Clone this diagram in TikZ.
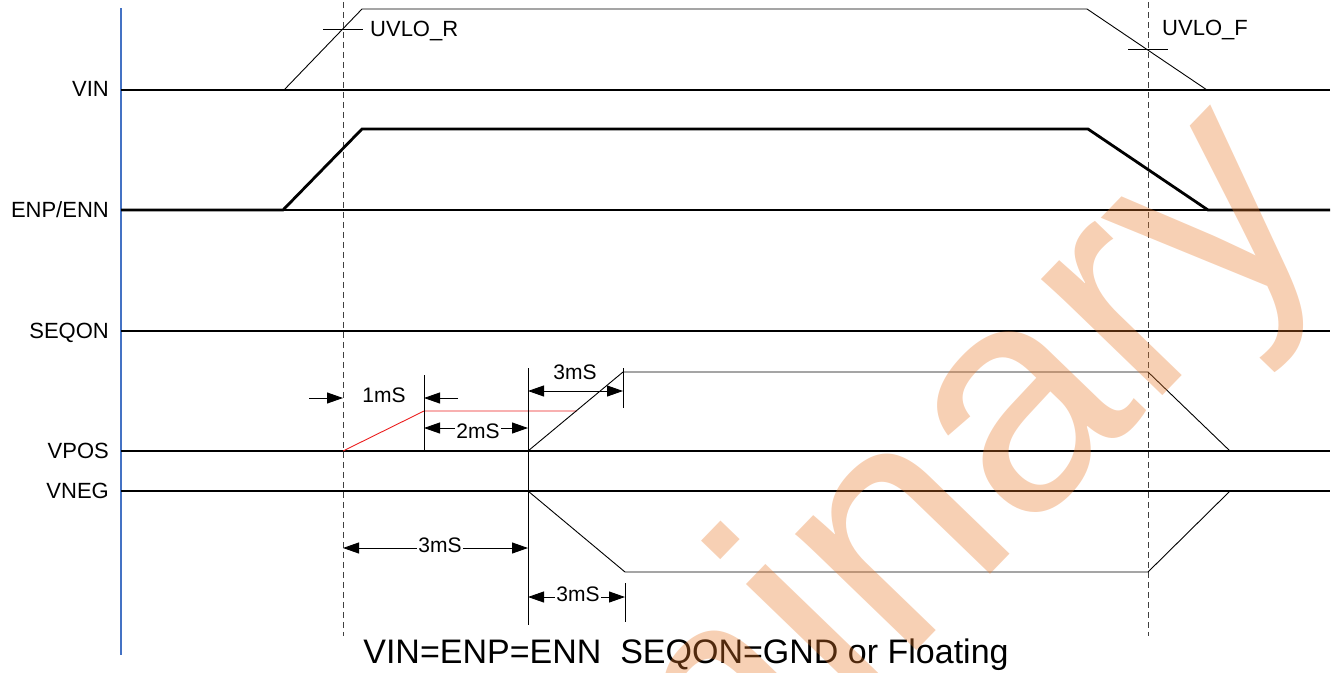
\documentclass[tikz,border=0pt]{standalone}
\usepackage{fontspec}
\setmainfont{Liberation Sans}
\definecolor{axisblue}{RGB}{68,114,196}
\definecolor{rampred}{RGB}{235,30,30}
\definecolor{wmorange}{RGB}{232,120,40}
\usepackage{tikz}
\usetikzlibrary{arrows.meta, positioning, calc}

\begin{document}
\begin{tikzpicture}[x=1pt, y=-1pt,
    sig/.style={line width=2.8pt},
    wave/.style={line width=0.9pt},
    guide/.style={line width=0.8pt, black!75, dash pattern=on 6pt off 4pt},
    dim/.style={line width=0.9pt, {Triangle[length=16pt,width=11pt]}-{Triangle[length=16pt,width=11pt]}},
    into/.style={line width=0.9pt, -{Triangle[length=16pt,width=11pt]}},
    siglabel/.style={anchor=east, inner sep=0pt, text depth=0pt, font=\fontsize{22}{24}\selectfont},
    dimlabel/.style={inner sep=1pt, text depth=0pt, fill=white, font=\fontsize{21}{24}\selectfont}
  ]
  \useasboundingbox (0,0) rectangle (1333,672);

  % time axis and signal names
  \draw[axisblue, line width=2.6pt] (121,8) -- (121,655);
  \node[siglabel] (vin)   at (109,89)  {VIN};
  \node[siglabel] (enp)   at (109,210) {ENP/ENN};
  \node[siglabel] (seqon) at (109,331) {SEQON};
  \node[siglabel] (vpos)  at (109,451) {VPOS};
  \node[siglabel] (vneg)  at (109,491) {VNEG};
  \foreach \lv in {90,210,331,451,491}
    \draw[sig] (121,\lv) -- (1330,\lv);

  % UVLO thresholds
  \draw[guide] (343,2) -- (343,636);
  \draw[guide] (1148,2) -- (1148,636);
  \draw[wave] (284,90) -- (362,9) -- (1087,9) -- (1207,90);
  \draw[wave] (323,29) -- (363,29);
  \node[dimlabel, fill=none, anchor=west, font=\fontsize{22}{24}\selectfont] (uvlor) at (369,29) {UVLO\_R};
  \draw[wave] (1128,49) -- (1168,49);
  \node[dimlabel, fill=none, anchor=west, font=\fontsize{22}{24}\selectfont] (uvlof) at (1161,28) {UVLO\_F};

  % enable
  \draw[sig] (121,210) -- (283,210) -- (362,129) -- (1088,129) -- (1208,210) -- (1330,210);

  % outputs
  \draw[rampred, wave] (343,451) -- (424,411) -- (577,411);
  \draw[wave] (528,451) -- (623,372) -- (1148,372) -- (1230,451);
  \draw[wave] (528,491) -- (625,572) -- (1148,572) -- (1230,491);

  % timing marks
  \draw[wave] (424,375) -- (424,451);
  \draw[wave] (528,368) -- (528,625);
  \draw[wave] (623,368) -- (623,408);
  \draw[wave] (625,583) -- (625,622);

  \coordinate (a1) at (309,398);
  \coordinate (a2) at (343,398);
  \coordinate (a3) at (458,398);
  \coordinate (a4) at (424,398);
  \draw[into] (a1) -- (a2);
  \draw[into] (a3) -- (a4);
  \node[dimlabel, fill=none] (d1) at (384,395) {1mS};

  \coordinate (b1) at (424,428);
  \coordinate (b2) at (528,428);
  \draw[dim] (b1) -- (b2);
  \node[dimlabel] (d2) at (478,431) {2mS};

  \coordinate (c1) at (528,391);
  \coordinate (c2) at (623,391);
  \draw[dim] (c1) -- (c2);
  \node[dimlabel, fill=none] (d3) at (575,372) {3mS};

  \coordinate (e1) at (343,548);
  \coordinate (e2) at (528,548);
  \draw[dim] (e1) -- (e2);
  \node[dimlabel] (d4) at (440,545) {3mS};

  \coordinate (f1) at (528,597);
  \coordinate (f2) at (625,597);
  \draw[dim] (f1) -- (f2);
  \node[dimlabel] (d5) at (578,594) {3mS};

  \node[anchor=base, inner sep=0pt, font=\fontsize{34}{36}\selectfont] (note) at (686,663)
    {VIN=ENP=ENN\ \ SEQON=GND or Floating};

  % watermark
  \node[rotate=46, anchor=base west, inner sep=0pt, text=wmorange, opacity=0.35,
    font=\fontsize{318}{318}\selectfont] (wm) at (227,1365) {Preliminary};
\end{tikzpicture}
\end{document}
